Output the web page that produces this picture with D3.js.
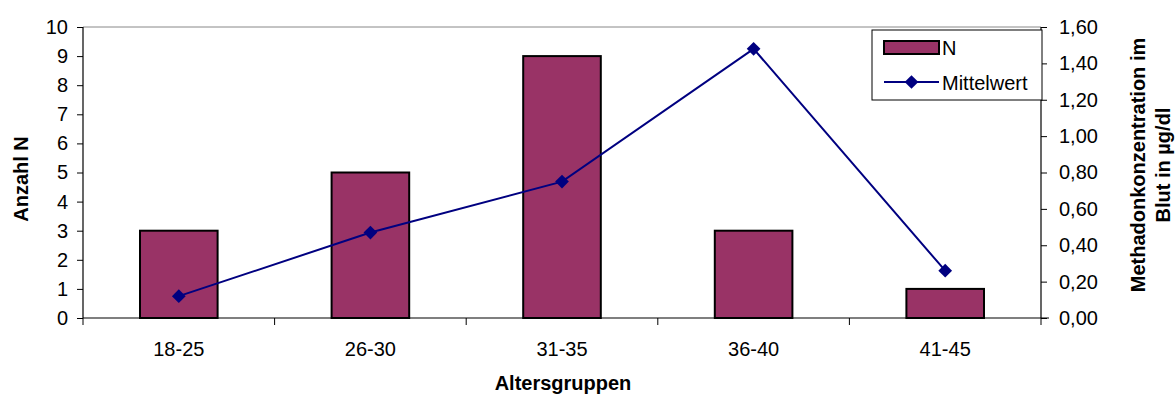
<!DOCTYPE html>
<html>
<head>
<meta charset="utf-8">
<script src="https://cdn.jsdelivr.net/npm/d3@7"></script>
<style>
  body { margin: 0; background: #fff; }
  text { font-family: "Liberation Sans", Arial, sans-serif; }
</style>
</head>
<body>
<div id="chart"></div>
<script>
var categories = ['18-25', '26-30', '31-35', '36-40', '41-45'];
var anzahl = [3, 5, 9, 3, 1];
var mittelwert = [0.12, 0.47, 0.75, 1.48, 0.26];
var leftTicks = [0, 1, 2, 3, 4, 5, 6, 7, 8, 9, 10];
var rightTicks = [0, 0.2, 0.4, 0.6, 0.8, 1.0, 1.2, 1.4, 1.6];

var width = 1176, height = 394;
var pLeft = 83, pRight = 1041, pTop = 27, pBottom = 318;
var fs = 20;

var svg = d3.select('#chart').append('svg')
    .attr('width', width)
    .attr('height', height);

var x = d3.scaleBand().domain(categories).range([pLeft, pRight]).paddingInner(0).paddingOuter(0);
var yL = d3.scaleLinear().domain([0, 10]).range([pBottom, pTop]);
var yR = d3.scaleLinear().domain([0, 1.6]).range([pBottom, pTop]);

// top frame line
svg.append('line')
    .attr('x1', pLeft).attr('x2', pRight)
    .attr('y1', pTop).attr('y2', pTop)
    .attr('stroke', '#888').attr('stroke-width', 1);

// bars
var bw = x.bandwidth() * 0.405;
svg.selectAll('.bar')
    .data(anzahl)
    .enter()
    .append('rect')
    .attr('class', 'bar')
    .attr('x', function(d, i){ return x(categories[i]) + x.bandwidth()/2 - bw/2; })
    .attr('y', function(d){ return yL(d); })
    .attr('width', bw)
    .attr('height', function(d){ return pBottom - yL(d); })
    .attr('fill', '#993366')
    .attr('stroke', '#000')
    .attr('stroke-width', 2);

// axes
var fmt = d3.format('.2f');
var axL = svg.append('g')
    .attr('transform', 'translate(' + pLeft + ',0)')
    .call(d3.axisLeft(yL).tickValues(leftTicks).tickSize(6).tickPadding(9));
var axR = svg.append('g')
    .attr('transform', 'translate(' + pRight + ',0)')
    .call(d3.axisRight(yR).tickValues(rightTicks).tickSize(6).tickPadding(12)
        .tickFormat(function(d){ return fmt(d).replace('.', ','); }));
var axB = svg.append('g')
    .attr('transform', 'translate(0,' + pBottom + ')')
    .call(d3.axisBottom(x).tickSize(0).tickPadding(24));

// category separator ticks
svg.selectAll('.sep')
    .data(d3.range(categories.length + 1))
    .enter()
    .append('line')
    .attr('class', 'sep')
    .attr('x1', function(d){ return pLeft + d * x.bandwidth(); })
    .attr('x2', function(d){ return pLeft + d * x.bandwidth(); })
    .attr('y1', pBottom).attr('y2', pBottom + 7)
    .attr('stroke', '#000');

[axL, axR, axB].forEach(function(a){
    a.selectAll('.domain').attr('stroke', '#000').attr('stroke-width', 1.2);
    a.selectAll('.tick line').attr('stroke', '#000');
    a.selectAll('text').attr('font-size', fs).attr('fill', '#000')
        .style('font-family', '"Liberation Sans", Arial, sans-serif');
});
axL.select('.domain').attr('d', 'M0,' + pTop + 'V' + pBottom);
axR.select('.domain').attr('d', 'M0,' + pTop + 'V' + pBottom);
axB.select('.domain').attr('d', 'M' + pLeft + ',0H' + (pRight + 8));

// line
var line = d3.line()
    .x(function(d, i){ return x(categories[i]) + x.bandwidth()/2; })
    .y(function(d){ return yR(d); });
svg.append('path')
    .datum(mittelwert)
    .attr('d', line)
    .attr('fill', 'none')
    .attr('stroke', '#000080')
    .attr('stroke-width', 2);

var diamond = d3.symbol().type(d3.symbolDiamond2).size(120);
svg.selectAll('.pt')
    .data(mittelwert)
    .enter()
    .append('path')
    .attr('class', 'pt')
    .attr('d', diamond)
    .attr('transform', function(d, i){
        return 'translate(' + (x(categories[i]) + x.bandwidth()/2) + ',' + yR(d) + ')';
    })
    .attr('fill', '#000080');

// axis titles
svg.append('text')
    .attr('x', 563).attr('y', 390)
    .attr('text-anchor', 'middle')
    .attr('font-size', fs).attr('font-weight', 'bold')
    .text('Altersgruppen');
svg.append('text')
    .attr('transform', 'translate(28,179) rotate(-90)')
    .attr('text-anchor', 'middle')
    .attr('font-size', fs).attr('font-weight', 'bold')
    .text('Anzahl N');
svg.append('text')
    .attr('transform', 'translate(1145,165) rotate(-90)')
    .attr('text-anchor', 'middle')
    .attr('font-size', fs).attr('font-weight', 'bold')
    .text('Methadonkonzentration im');
svg.append('text')
    .attr('transform', 'translate(1170,165) rotate(-90)')
    .attr('text-anchor', 'middle')
    .attr('font-size', fs).attr('font-weight', 'bold')
    .text('Blut in µg/dl');

// legend
var lg = svg.append('g').attr('transform', 'translate(872,30)');
lg.append('rect')
    .attr('width', 170).attr('height', 70)
    .attr('fill', '#fff').attr('stroke', '#000').attr('stroke-width', 1);
lg.append('rect')
    .attr('x', 12).attr('y', 11).attr('width', 55).attr('height', 13)
    .attr('fill', '#993366').attr('stroke', '#000').attr('stroke-width', 2);
lg.append('text').attr('x', 70).attr('y', 25).attr('font-size', fs).text('N');
lg.append('line')
    .attr('x1', 12).attr('x2', 67).attr('y1', 52).attr('y2', 52)
    .attr('stroke', '#000080').attr('stroke-width', 2);
lg.append('path').attr('d', diamond)
    .attr('transform', 'translate(39.5,52)').attr('fill', '#000080');
lg.append('text').attr('x', 70).attr('y', 60).attr('font-size', fs).text('Mittelwert');
</script>
</body>
</html>
